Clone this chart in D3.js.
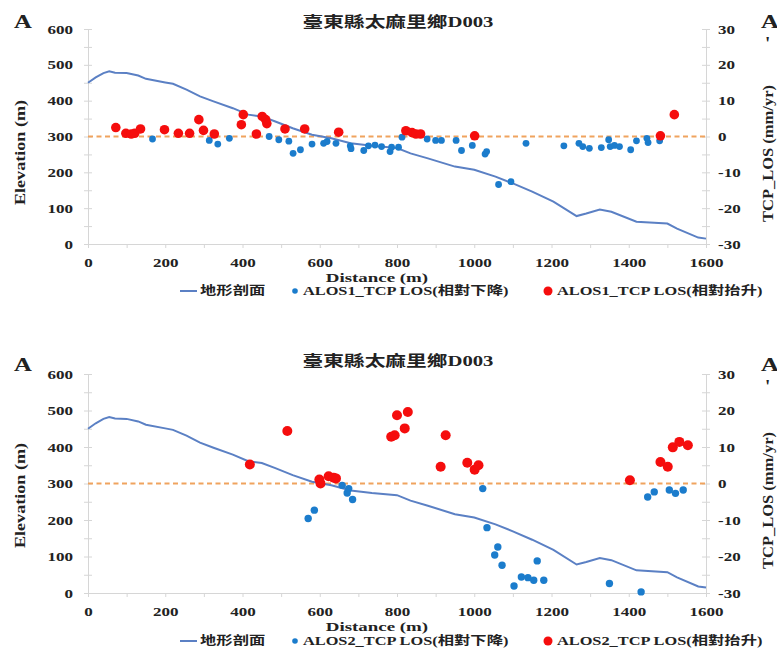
<html>
<head>
<meta charset="utf-8">
<title>臺東縣太麻里鄉D003</title>
<script src="https://cdn.jsdelivr.net/npm/d3@7/dist/d3.min.js"></script>
<style>
  body { margin: 0; background: #fff; }
  text { font-family: 'Liberation Serif', 'Noto Sans CJK TC', serif; font-weight: bold; fill: #222; }
</style>
</head>
<body>
<svg></svg>
<script>
// terrain profile (distance m, elevation m)
var profDist = [0, 20, 40, 55, 70, 100, 130, 150, 200, 220, 255, 290, 325, 375, 415, 450, 485, 530, 580, 630, 680, 735, 800, 835, 880, 950, 1000, 1055, 1100, 1150, 1205, 1265, 1290, 1325, 1355, 1420, 1500, 1525, 1580, 1600];
var profElev = [450, 465, 477, 482, 478, 477, 470, 461, 451, 447, 431, 412, 398, 379, 361, 356, 342, 323, 305, 295, 281, 274, 268, 253, 239, 216, 207, 188, 169, 146, 118, 78, 85, 96, 90, 62, 57, 43, 18, 15];

// ALOS1 relative subsidence (blue) and uplift (red), mm/yr
var alos1DownDist = [167, 314, 336, 366, 469, 494, 520, 531, 550, 580, 610, 619, 642, 679, 681, 714, 726, 743, 760, 782, 786, 804, 813, 878, 900, 915, 953, 967, 995, 1028, 1032, 1063, 1095, 1134, 1232, 1271, 1281, 1298, 1329, 1348, 1352, 1363, 1376, 1405, 1420, 1447, 1450, 1480];
var alos1DownVel = [-0.7, -1.1, -2.1, -0.5, 0, -0.9, -1.3, -4.7, -3.7, -2.1, -1.9, -1.4, -1.9, -2.6, -3.4, -3.9, -2.6, -2.4, -2.8, -4.2, -3.0, -3.0, -0.2, -0.7, -1.1, -1.1, -1.1, -3.9, -2.5, -4.9, -4.2, -13.4, -12.6, -1.9, -2.6, -1.9, -2.8, -3.3, -3.1, -0.9, -2.8, -2.5, -2.8, -3.7, -1.2, -0.5, -1.7, -1.2];
var alos1UpDist = [72, 98, 112, 121, 136, 198, 234, 263, 287, 299, 327, 397, 402, 436, 451, 460, 463, 510, 561, 649, 823, 839, 849, 861, 1001, 1482, 1518];
var alos1UpVel = [2.5, 0.9, 0.7, 0.9, 2.1, 1.9, 0.9, 0.9, 4.7, 1.7, 0.7, 3.3, 6.1, 0.7, 5.6, 4.7, 3.6, 2.1, 2.1, 1.2, 1.6, 1.1, 0.7, 0.7, 0.2, 0.2, 6.1];

// ALOS2
var alos2DownDist = [570, 586, 658, 671, 675, 685, 1022, 1033, 1053, 1061, 1072, 1103, 1122, 1139, 1154, 1163, 1180, 1350, 1432, 1449, 1466, 1505, 1521, 1541];
var alos2DownVel = [-9.6, -7.3, -0.5, -2.6, -1.4, -4.4, -1.4, -12.1, -19.6, -17.4, -22.4, -28.1, -25.6, -25.8, -26.5, -21.2, -26.5, -27.4, -29.7, -3.7, -2.3, -1.8, -2.7, -1.8];
var alos2UpDist = [419, 516, 599, 602, 623, 636, 642, 785, 794, 800, 820, 828, 913, 926, 982, 1001, 1011, 1403, 1482, 1501, 1514, 1531, 1553];
var alos2UpVel = [5.2, 14.4, 1.1, 0, 2.0, 1.6, 1.4, 12.8, 13.2, 18.7, 15.1, 19.6, 4.6, 13.2, 5.7, 3.8, 5.0, 0.9, 5.9, 4.6, 9.9, 11.4, 10.5];

var titleText = '臺東縣太麻里鄉D003';
var legendTerrain = '地形剖面';
var xTicks = [0, 200, 400, 600, 800, 1000, 1200, 1400, 1600];
var elevTicks = [0, 100, 200, 300, 400, 500, 600];
var velTicks = [-30, -20, -10, 0, 10, 20, 30];

(function() {
  var svg = d3.select('svg').attr('width', 777).attr('height', 653);
  var sx = 1.36;

  function stretch(sel, k) {
    sel.each(function() {
      var L = this.getComputedTextLength();
      if (L > 0) d3.select(this).attr('textLength', L * k).attr('lengthAdjust', 'spacingAndGlyphs');
    });
  }

  var x = d3.scaleLinear().domain([0, 1600]).range([88, 706]);

  var panels = [
    {top: 29, bottom: 244, sat: 'ALOS1', downD: alos1DownDist, downV: alos1DownVel, upD: alos1UpDist, upV: alos1UpVel, titleY: 27, aY: 28, elevDy: 16, legDy: 47, rUp: 4.8, rDown: 3.4},
    {top: 374, bottom: 593, sat: 'ALOS2', downD: alos2DownDist, downV: alos2DownVel, upD: alos2UpDist, upV: alos2UpVel, titleY: 366, aY: 371, elevDy: 12, legDy: 48, rUp: 5, rDown: 3.7}
  ];

  panels.forEach(function(p) {
    var g = svg.append('g');
    var yL = d3.scaleLinear().domain([0, 600]).range([p.bottom, p.top]);
    var yR = d3.scaleLinear().domain([-30, 30]).range([p.bottom, p.top]);

    // axes
    var axL = g.append('g').attr('transform', 'translate(88,0)')
      .call(d3.axisLeft(yL).tickValues(d3.range(0, 601, 50)).tickSize(4).tickSizeOuter(0).tickPadding(11)
        .tickFormat(function(d) { return elevTicks.indexOf(d) >= 0 ? d : ''; }));
    var axR = g.append('g').attr('transform', 'translate(706,0)')
      .call(d3.axisRight(yR).tickValues(d3.range(-30, 31, 5)).tickSize(4).tickSizeOuter(0).tickPadding(8)
        .tickFormat(function(d) { return velTicks.indexOf(d) >= 0 ? d : ''; }));
    var axB = g.append('g').attr('transform', 'translate(0,' + p.bottom + ')')
      .call(d3.axisBottom(x).tickValues(d3.range(0, 1601, 100)).tickSize(4).tickSizeOuter(0).tickPadding(10)
        .tickFormat(function(d) { return xTicks.indexOf(d) >= 0 ? d : ''; }));
    axL.selectAll('.tick line').attr('x1', 4);
    axR.selectAll('.tick line').attr('x1', -4);
    [axL, axR, axB].forEach(function(a) {
      a.select('.domain').attr('stroke', '#d6d6d6');
      a.selectAll('.tick line').attr('stroke', '#d6d6d6');
      a.selectAll('text').attr('font-size', 12.5).attr('font-family', null).attr('fill', '#222');
      stretch(a.selectAll('text'), sx);
    });

    // zero line of velocity
    g.append('line')
      .attr('x1', x(0)).attr('x2', x(1600))
      .attr('y1', yR(0)).attr('y2', yR(0))
      .attr('stroke', '#f0a35e').attr('stroke-width', 2).attr('stroke-dasharray', '5,3.5');

    // terrain profile
    var line = d3.line().x(function(d) { return x(d[0]); }).y(function(d) { return yL(d[1]); });
    g.append('path')
      .datum(d3.zip(profDist, profElev))
      .attr('d', line)
      .attr('fill', 'none').attr('stroke', '#5b80c4').attr('stroke-width', 2);

    g.selectAll('.down').data(d3.zip(p.downD, p.downV)).enter().append('circle')
      .attr('class', 'down')
      .attr('cx', function(d) { return x(d[0]); })
      .attr('cy', function(d) { return yR(d[1]); })
      .attr('r', p.rDown).attr('fill', '#1b7ccc');
    g.selectAll('.up').data(d3.zip(p.upD, p.upV)).enter().append('circle')
      .attr('class', 'up')
      .attr('cx', function(d) { return x(d[0]); })
      .attr('cy', function(d) { return yR(d[1]); })
      .attr('r', p.rUp).attr('fill', '#f50d0d');

    // titles and labels
    var t = g.append('text').attr('x', 398).attr('y', p.titleY).attr('text-anchor', 'middle')
      .attr('font-size', 15).text(titleText);
    stretch(t, 1.38);
    var a1 = g.append('text').attr('x', 14).attr('y', p.aY).attr('font-size', 19).text('A');
    stretch(a1, 1.3);
    var a2 = g.append('text').attr('x', 761).attr('y', p.aY).attr('font-size', 19).text('A');
    stretch(a2, 1.3);
    g.append('text').attr('x', 765).attr('y', p.aY + 22).attr('font-size', 19).text("'");

    var mid = (p.top + p.bottom) / 2;
    g.append('text').attr('transform', 'translate(25,' + (mid + p.elevDy) + ') rotate(-90)')
      .attr('text-anchor', 'middle').attr('font-size', 15)
      .attr('textLength', 105).attr('lengthAdjust', 'spacingAndGlyphs').text('Elevation (m)');
    g.append('text').attr('transform', 'translate(773,' + (mid + 17) + ') rotate(-90)')
      .attr('text-anchor', 'middle').attr('font-size', 15)
      .attr('textLength', 137).attr('lengthAdjust', 'spacingAndGlyphs').text('TCP_LOS (mm/yr)');
    var dl = g.append('text').attr('x', 377).attr('y', p.bottom + 38).attr('text-anchor', 'middle')
      .attr('font-size', 13.5).text('Distance (m)');
    stretch(dl, 1.4);

    // legend
    var ly = p.bottom + p.legDy;
    g.append('line').attr('x1', 180).attr('x2', 197).attr('y1', ly).attr('y2', ly)
      .attr('stroke', '#5b80c4').attr('stroke-width', 2);
    var l1 = g.append('text').attr('x', 200).attr('y', ly + 4).attr('font-size', 12).text(legendTerrain);
    g.append('circle').attr('cx', 295).attr('cy', ly).attr('r', 2.8).attr('fill', '#1b7ccc');
    var l2 = g.append('text').attr('x', 303).attr('y', ly + 4).attr('font-size', 12).text(p.sat + '_TCP LOS(相對下降)');
    g.append('circle').attr('cx', 548).attr('cy', ly).attr('r', 4.5).attr('fill', '#f50d0d');
    var l3 = g.append('text').attr('x', 557).attr('y', ly + 4).attr('font-size', 12).text(p.sat + '_TCP LOS(相對抬升)');
    stretch(l1, sx); stretch(l2, sx); stretch(l3, sx);
  });
})();
</script>
</body>
</html>
